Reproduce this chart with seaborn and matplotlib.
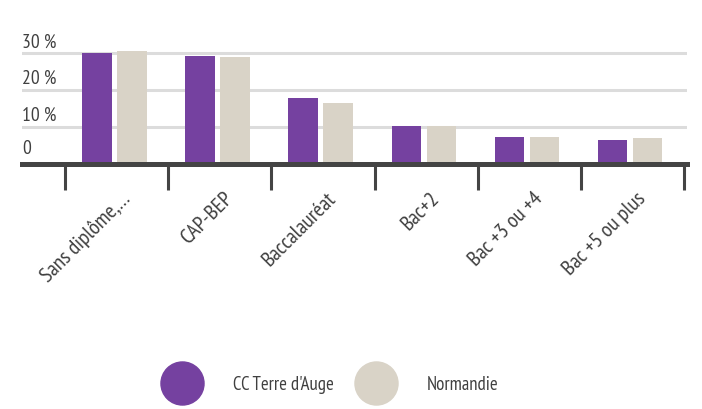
import matplotlib
matplotlib.use("Agg")
import matplotlib.pyplot as plt
import matplotlib.transforms as mtransforms
from matplotlib.lines import Line2D
import seaborn as sns
import pandas as pd

categories = ["Sans diplôme,…", "CAP-BEP", "Baccalauréat", "Bac+2", "Bac +3 ou +4", "Bac +5 ou plus"]
series_names = ["CC Terre d'Auge", "Normandie"]
cc_values = [30.0, 29.4, 17.9, 10.2, 7.2, 6.4]
normandie_values = [30.7, 28.9, 16.5, 10.4, 7.4, 6.9]
y_ticks = [0, 10, 20, 30]
y_tick_labels = ["0", "10 %", "20 %", "30 %"]

colors = ["#7541A0", "#D9D3C7"]
text_color = "#404040"
axis_color = "#444444"

sns.set_style("white")
plt.rcParams["font.family"] = ["PT Sans Narrow", "DejaVu Sans"]

df = pd.DataFrame({
    "cat": categories * 2,
    "val": cc_values + normandie_values,
    "serie": [series_names[0]] * len(categories) + [series_names[1]] * len(categories),
})

W, H = 702, 409
fig = plt.figure(figsize=(W / 100, H / 100), dpi=100)
ax = fig.add_axes([22.3 / W, 1 - 163.8 / H, (686.7 - 22.3) / W, 121.4 / H])

sns.barplot(data=df, x="cat", y="val", hue="serie", order=categories,
            hue_order=series_names, palette=colors, saturation=1,
            width=0.679, gap=0.16, linewidth=0, legend=False, ax=ax, zorder=3)

ax.set_xlim(-0.894, 5.55)
ax.set_ylim(0, 33)

# grid lines
for v in y_ticks[1:]:
    ax.axhline(v, color="#DCDCDC", lw=2.2, zorder=1)

# y labels above lines
base_tr = mtransforms.blended_transform_factory(ax.transAxes, ax.transData)
for v, lab in zip(y_ticks, y_tick_labels):
    off = 10 if v == 0 else 6
    tr = mtransforms.offset_copy(base_tr, fig=fig, x=0, y=off, units="dots")
    ax.text(0, v, lab, transform=tr, ha="left", va="baseline",
            fontsize=14, color=text_color)

ax.set_yticks([])
ax.set_ylabel("")
ax.set_xlabel("")
for s in ["left", "right", "top"]:
    ax.spines[s].set_visible(False)
ax.spines["bottom"].set_color(axis_color)
ax.spines["bottom"].set_linewidth(3.6)
ax.spines["bottom"].set_zorder(5)

# x tick labels at centers, tick marks at boundaries
ax.set_xticks(range(len(categories)))
ax.set_xticklabels(categories, rotation=45, ha="right", rotation_mode="anchor",
                   fontsize=15.5, color=text_color)
ax.tick_params(axis="x", which="major", bottom=True, length=0, pad=18)
shift = mtransforms.ScaledTranslation(6 / 100, 0, fig.dpi_scale_trans)
for lbl in ax.get_xticklabels():
    lbl.set_transform(lbl.get_transform() + shift)
ax.set_xticks([i - 0.5 + 0.022 for i in range(len(categories) + 1)], minor=True)
ax.tick_params(axis="x", which="minor", bottom=True, length=18.4, width=2.2,
               color=axis_color, direction="out")

# legend
fs = 13.5
handles = [Line2D([0], [0], marker="o", linestyle="none", markersize=31,
                  markerfacecolor=c, markeredgecolor=c) for c in colors]
fig.legend(handles, series_names, loc="center left",
           bbox_to_anchor=(173 / W, 1 - 385 / H), ncol=2, frameon=False,
           fontsize=fs, handlelength=1.0, handletextpad=2.2,
           columnspacing=1.75, borderpad=0, borderaxespad=0,
           labelcolor=text_color)

fig.savefig("out.png", dpi=100)
